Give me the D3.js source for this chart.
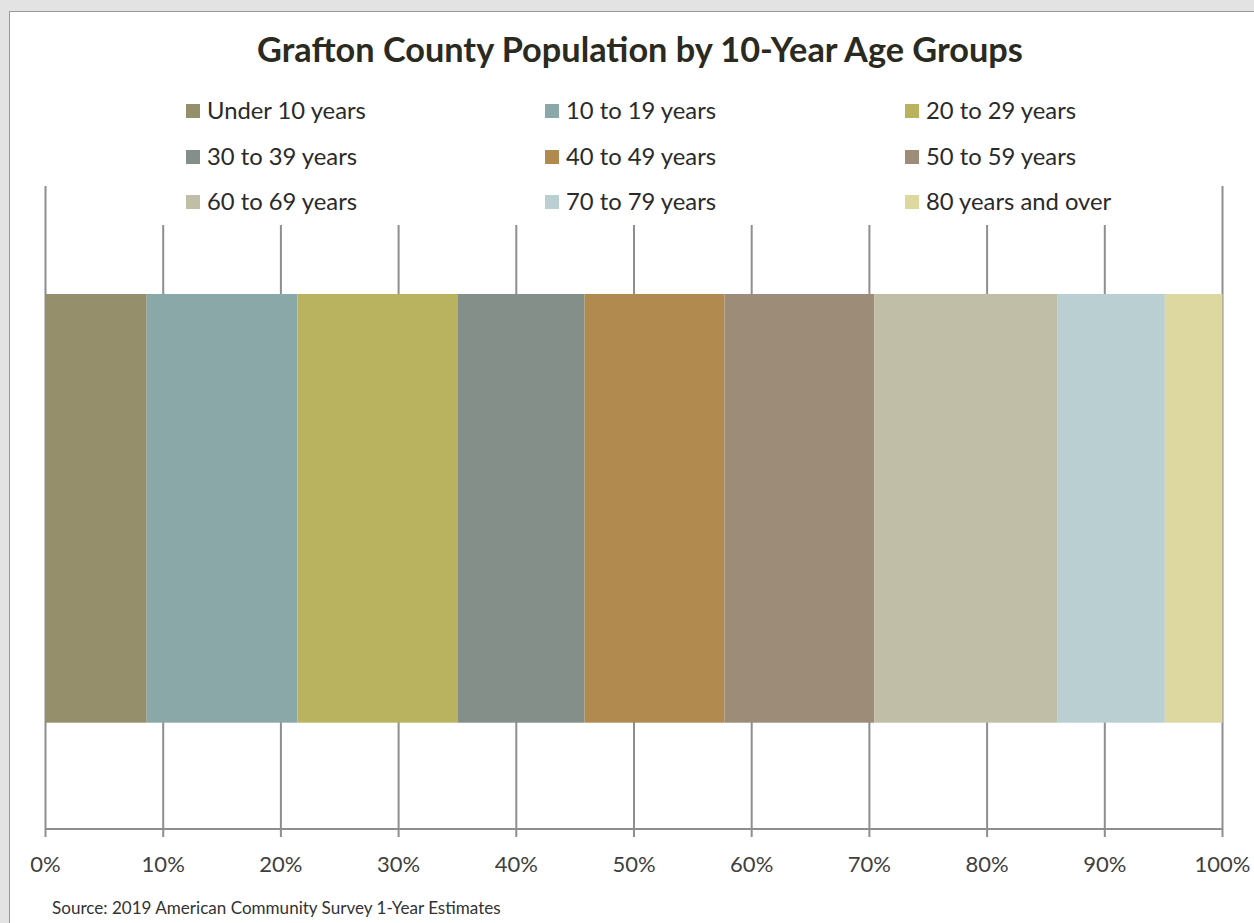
<!DOCTYPE html>
<html>
<head>
<meta charset="utf-8">
<script src="https://cdn.jsdelivr.net/npm/d3@7"></script>
<style>
  body { margin: 0; background: #e3e3e3; }
  svg { display: block; font-family: Lato, "Open Sans", sans-serif; }
</style>
</head>
<body>
<svg width="1254" height="923"></svg>
<script>
const groups = ["Under 10 years", "10 to 19 years", "20 to 29 years",
                "30 to 39 years", "40 to 49 years", "50 to 59 years",
                "60 to 69 years", "70 to 79 years", "80 years and over"];
const shares = [8.6, 12.8, 13.6, 10.8, 11.9, 12.7, 15.6, 9.1, 4.9];
const colors = ["#968f6c", "#8aa8a8", "#b9b35f", "#848f8a", "#b08a4f",
                "#9c8c78", "#c1bea7", "#b9cfd1", "#ddd8a0"];
const ticks  = [0, 10, 20, 30, 40, 50, 60, 70, 80, 90, 100];

const svg = d3.select("svg");

// chart panel
svg.append("rect")
  .attr("x", 9.5).attr("y", 11.5)
  .attr("width", 1260).attr("height", 930)
  .attr("fill", "#fff")
  .attr("stroke", "#9a9a9a");

const x = d3.scaleLinear().domain([0, 100]).range([45.5, 1222.5]);

// gridlines
svg.append("g")
  .selectAll("line")
  .data(ticks)
  .enter()
  .append("line")
  .attr("x1", d => x(d)).attr("x2", d => x(d))
  .attr("y1", 186).attr("y2", 837)
  .attr("stroke", "#8e8e8e")
  .attr("stroke-width", 2);

svg.append("line")
  .attr("x1", x(0)).attr("x2", x(100))
  .attr("y1", 829).attr("y2", 829)
  .attr("stroke", "#8e8e8e")
  .attr("stroke-width", 2);

// stacked bar
let acc = 0;
const stacked = shares.map(function(v, i) {
  const d = {group: groups[i], x0: acc, x1: acc + v, color: colors[i]};
  acc += v;
  return d;
});
const scale = 100 / acc;

svg.append("g")
  .selectAll("rect")
  .data(stacked)
  .enter()
  .append("rect")
  .attr("x", d => x(d.x0 * scale))
  .attr("width", d => x(d.x1 * scale) - x(d.x0 * scale))
  .attr("y", 294)
  .attr("height", 722.7 - 294)
  .attr("fill", d => d.color);

// tick labels
svg.append("g")
  .selectAll("text")
  .data(ticks)
  .enter()
  .append("text")
  .attr("x", d => x(d))
  .attr("y", 872)
  .attr("text-anchor", "middle")
  .attr("font-size", 22)
  .attr("fill", "#404040")
  .text(d => d + "%");

// legend (white box covers inner gridlines)
svg.append("rect")
  .attr("x", 150).attr("y", 88)
  .attr("width", 980).attr("height", 137)
  .attr("fill", "#fff");

const legendX = [186, 545, 905];
const legendY = [111, 157, 202];
const legend = svg.append("g")
  .selectAll("g")
  .data(groups)
  .enter()
  .append("g")
  .attr("transform", (d, i) => `translate(${legendX[i % 3]},${legendY[Math.floor(i / 3)]})`);

legend.append("rect")
  .attr("x", 0).attr("y", -7)
  .attr("width", 14).attr("height", 14)
  .attr("fill", (d, i) => colors[i]);

const labels = legend.append("text")
  .attr("x", 21).attr("y", 8)
  .attr("font-size", 21)
  .attr("fill", "#2a2a2a")
  .text(d => d);

// fit legend labels to the reference width of "Under 10 years"
const lw = labels.node().getComputedTextLength();
labels.attr("font-size", 21 * 159 / lw);

// title
const title = svg.append("text")
  .attr("x", 640).attr("y", 62)
  .attr("text-anchor", "middle")
  .attr("font-size", 30)
  .attr("font-weight", "bold")
  .attr("fill", "#2b2a20")
  .text("Grafton County Population by 10-Year Age Groups");

const tw = title.node().getComputedTextLength();
title.attr("font-size", 30 * 766 / tw);

const source = svg.append("text")
  .attr("x", 52).attr("y", 914)
  .attr("font-size", 15)
  .attr("fill", "#333")
  .text("Source: 2019 American Community Survey 1-Year Estimates");

const sw = source.node().getComputedTextLength();
source.attr("font-size", 15 * 449 / sw);
</script>
</body>
</html>
